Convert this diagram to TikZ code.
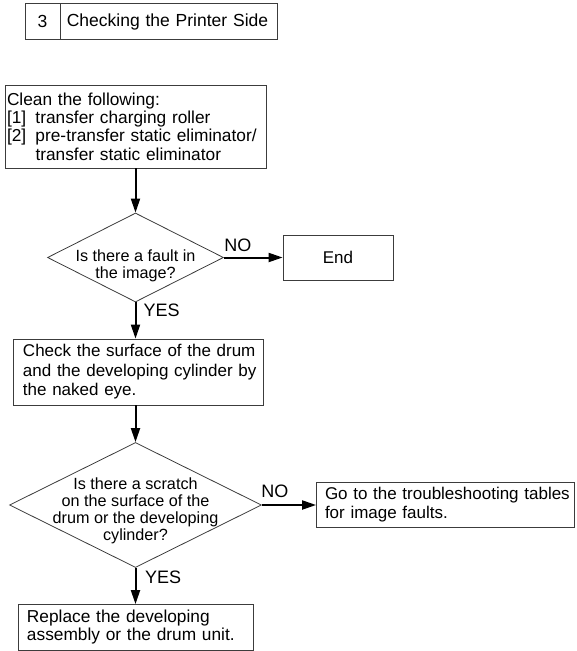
\documentclass[tikz,border=0pt]{standalone}
\usepackage{fontspec}
\setmainfont{Liberation Sans}
\usetikzlibrary{arrows.meta, positioning, shapes.geometric}
\definecolor{boxgray}{RGB}{60,60,60}

\begin{document}
\begin{tikzpicture}[
    x=1pt, y=-1pt,
    box/.style    = {rectangle, draw=boxgray, line width=0.8pt, align=left,
                     font=\fontsize{17}{19}\selectfont, inner ysep=2pt},
    decide/.style = {diamond, draw=boxgray, line width=0.8pt, inner sep=0pt, aspect=2},
    qtext/.style  = {align=center, font=\fontsize{16.2}{17.2}\selectfont, inner sep=0pt},
    arr/.style    = {-{Triangle[length=14pt, width=9pt]}, line width=2pt},
    lbl/.style    = {font=\fontsize{18}{18}\selectfont, inner sep=0pt},
]
\useasboundingbox (0,0) rectangle (576,651);

% ---- heading -------------------------------------------------------------
\node[box, align=center, minimum width=35pt, minimum height=36pt, inner sep=0pt,
      font=\fontsize{17.5}{18}\selectfont] (num) at (42.5,21.5) {3};
\node[box, right=0pt of num, text width=205pt, inner xsep=6pt, minimum height=36pt,
      font=\fontsize{17.5}{18}\selectfont] (head) {Checking the Printer Side};

% ---- first check ---------------------------------------------------------
\node[box, text width=257pt, inner xsep=2pt, minimum height=83pt,
      font=\fontsize{17.3}{18.3}\selectfont] (clean) at (135.5,126.5) {%
  Clean the following:\\
  \makebox[28.5pt][l]{[1]}transfer charging roller\\
  \makebox[28.5pt][l]{[2]}pre-transfer static eliminator/\\
  \hspace*{28.5pt}transfer static eliminator};
\node[decide, minimum width=176pt, minimum height=89pt] (fault) at (135.5,257.5) {};
\node[qtext] (faulttxt) at ([yshift=-8.5pt]fault.center) {Is there a fault in\\the image?};
\node[box, align=center, minimum width=110pt, minimum height=45pt] (endbox) at (338,257.5) {End};

\draw[arr] (clean.south) -- (fault.north);
\draw[arr] (fault.east) -- node[lbl, pos=0.24, above=5pt] {NO} (endbox.west);

% ---- drum check ----------------------------------------------------------
\node[box, text width=231pt, inner xsep=9.5pt, minimum height=66pt,
      font=\fontsize{17}{19.5}\selectfont] (look) at (138.5,372)
     {\mbox{Check the surface of the drum}\\\mbox{and the developing cylinder by}\\the naked eye.};
\node[decide, minimum width=252pt, minimum height=125pt] (scratch) at (135.5,505) {};
\node[qtext] (scratchtxt) at ([yshift=-6pt]scratch.center)
     {Is there a scratch\\on the surface of the\\drum or the developing\\cylinder?};
\node[box, text width=241pt, inner xsep=8.5pt, minimum height=45pt,
      font=\fontsize{17}{19}\selectfont] (tables) at (445.5,505)
     {\mbox{Go to the troubleshooting tables}\\for image faults.};
\node[box, text width=217pt, inner xsep=9pt, minimum height=46pt,
      font=\fontsize{17.3}{18}\selectfont] (replace) at (135.5,627.5)
     {Replace the developing\\assembly or the drum unit.};

\draw[arr] (fault.south) -- node[lbl, pos=0.22, right=7pt] {YES} (fault.south |- look.north);
\draw[arr] (look.south -| scratch.north) -- (scratch.north);
\draw[arr] (scratch.east) -- node[lbl, pos=0.24, above=6pt] {NO} (tables.west);
\draw[arr] (scratch.south) -- node[lbl, pos=0.25, right=8.5pt] {YES} (replace.north);
\end{tikzpicture}
\end{document}
